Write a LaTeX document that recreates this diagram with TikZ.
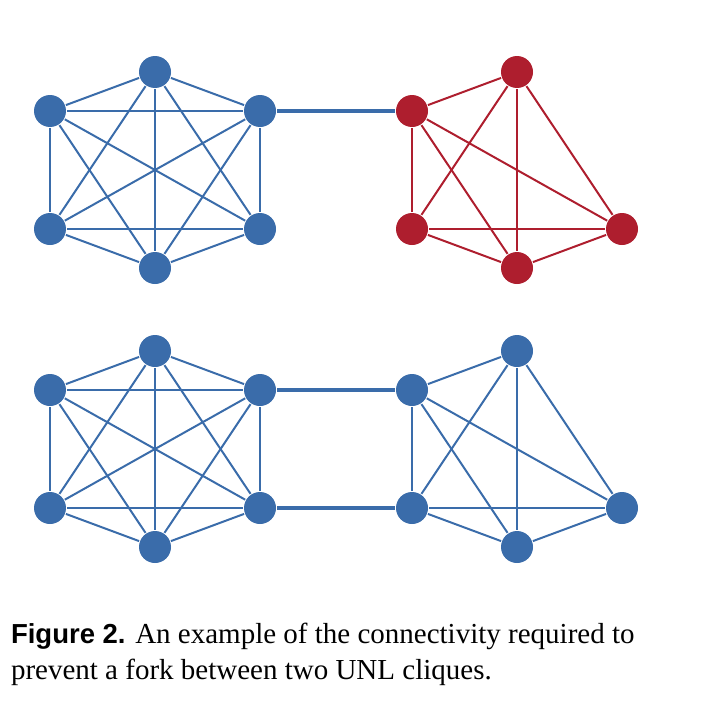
\documentclass[tikz,border=0pt]{standalone}
\usepackage{fontspec}
\setmainfont{Liberation Serif}
\setsansfont{Liberation Sans}
\usepackage[dvipsnames]{xcolor}
\definecolor{cliqueblue}{HTML}{3A6CAA}
\definecolor{cliquered}{HTML}{AE1E2E}

\begin{document}
\begin{tikzpicture}[x=1pt,y=-1pt,line width=2pt,
    blue node/.style={circle,fill=cliqueblue,minimum size=32,inner sep=0pt},
    red node/.style={circle,fill=cliquered,minimum size=32,inner sep=0pt},
    bridge/.style={draw=cliqueblue,line width=3.4pt}]

                \useasboundingbox (0,0) rectangle (714,728);

                % top left clique
                \node[blue node] (a0) at (155,72) {};
                \node[blue node] (a1) at (260,111) {};
                \node[blue node] (a2) at (260,229) {};
                \node[blue node] (a3) at (155,268) {};
                \node[blue node] (a4) at (50,229) {};
                \node[blue node] (a5) at (50,111) {};

                % top right clique
                \node[red node] (b0) at (517,72) {};
                \node[red node] (b1) at (622,229) {};
                \node[red node] (b2) at (517,268) {};
                \node[red node] (b3) at (412,229) {};
                \node[red node] (b4) at (412,111) {};

                % bottom left clique
                \node[blue node] (c0) at (155,351) {};
                \node[blue node] (c1) at (260,390) {};
                \node[blue node] (c2) at (260,508) {};
                \node[blue node] (c3) at (155,547) {};
                \node[blue node] (c4) at (50,508) {};
                \node[blue node] (c5) at (50,390) {};

                % bottom right clique
                \node[blue node] (d0) at (517,351) {};
                \node[blue node] (d1) at (622,508) {};
                \node[blue node] (d2) at (517,547) {};
                \node[blue node] (d3) at (412,508) {};
                \node[blue node] (d4) at (412,390) {};

                \path[draw=cliqueblue]
                    (a0) edge (a1) edge (a2) edge (a3) edge (a4) edge (a5)
                    (a1) edge (a2) edge (a3) edge (a4) edge (a5)
                    (a2) edge (a3) edge (a4) edge (a5)
                    (a3) edge (a4) edge (a5)
                    (a4) edge (a5)

                    (c0) edge (c1) edge (c2) edge (c3) edge (c4) edge (c5)
                    (c1) edge (c2) edge (c3) edge (c4) edge (c5)
                    (c2) edge (c3) edge (c4) edge (c5)
                    (c3) edge (c4) edge (c5)
                    (c4) edge (c5)

                    (d0) edge (d1) edge (d2) edge (d3) edge (d4)
                    (d1) edge (d2) edge (d3) edge (d4)
                    (d2) edge (d3) edge (d4)
                    (d3) edge (d4)
                ;

                \path[draw=cliquered]
                    (b0) edge (b1) edge (b2) edge (b3) edge (b4)
                    (b1) edge (b2) edge (b3) edge (b4)
                    (b2) edge (b3) edge (b4)
                    (b3) edge (b4)
                ;

                % links between the cliques
                \draw[bridge] (a1) -- (b4);
                \draw[bridge] (c1) -- (d4);
                \draw[bridge] (c2) -- (d3);

                % caption
                \node[anchor=base west,inner sep=0pt,font=\fontsize{29}{35}\selectfont] (cap1) at (10,643)
                    {{\sffamily\bfseries\fontsize{27.5}{35}\selectfont Figure 2.} An example of the connectivity required to};
                \node[anchor=base west,inner sep=0pt,font=\fontsize{29}{35}\selectfont] (cap2) at (10,679)
                    {prevent a fork between two UNL cliques.};
            \end{tikzpicture}
\end{document}
